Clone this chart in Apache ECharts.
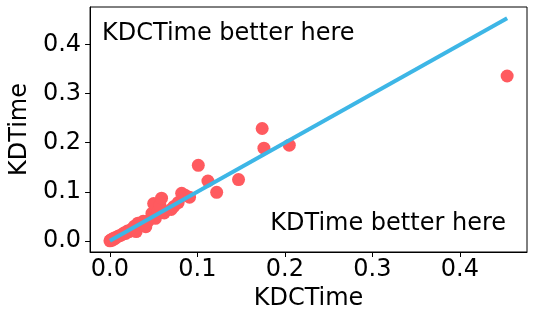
<!DOCTYPE html>
<html>
<head>
<meta charset="utf-8">
<script src="https://cdn.jsdelivr.net/npm/echarts@6/dist/echarts.min.js"></script>
<style>html,body{margin:0;padding:0;background:#fff;}#c{width:534px;height:318px;}</style>
</head>
<body>
<div id="c"></div>
<script>
const kdcTime = [0.000,0.001,0.002,0.003,0.004,0.005,0.006,0.008,0.010,0.012,0.014,0.016,0.018,0.020,0.022,0.025,0.028,0.030,0.032,0.035,0.038,0.041,0.044,0.048,0.050,0.052,0.055,0.057,0.059,0.062,0.070,0.073,0.078,0.082,0.086,0.091,0.101,0.112,0.122,0.147,0.174,0.176,0.205,0.454];
const kdTime  = [0.000,0.002,0.001,0.004,0.003,0.006,0.005,0.008,0.010,0.011,0.013,0.016,0.015,0.020,0.019,0.024,0.030,0.019,0.036,0.033,0.040,0.029,0.041,0.056,0.076,0.046,0.060,0.073,0.087,0.057,0.064,0.070,0.078,0.097,0.093,0.089,0.154,0.122,0.099,0.125,0.229,0.189,0.195,0.336];
const diagX = [0, 0.454];
const tickValues = [0, 0.1, 0.2, 0.3, 0.4];
const axisMin = -0.0227, axisMax = 0.4767;

const points = kdcTime.map((x, i) => [x, kdTime[i]]);
const diag = diagX.map(v => [v, v]);
const FONT = 'DejaVu Sans';

const chart = echarts.init(document.getElementById('c'), null, {renderer: 'canvas'});
function axis(name, isX) {
  return {
    type: 'value', min: axisMin, max: axisMax,
    name: name, nameLocation: 'middle', nameGap: isX ? 34 : 52,
    nameTextStyle: {fontFamily: FONT, fontSize: 24, color: '#000'},
    axisLine: {show: true, onZero: false, lineStyle: {color: '#000', width: 1}},
    axisTick: {show: true, length: 5, lineStyle: {color: '#000'}, customValues: tickValues},
    axisLabel: {fontFamily: FONT, fontSize: 24, color: '#000', margin: isX ? 6 : 9,
      customValues: tickValues, formatter: v => v.toFixed(1)},
    splitLine: {show: false}
  };
}
chart.setOption({
  animation: false,
  grid: {left: 82, right: 7, top: 7, bottom: 66, show: true, borderColor: '#000', borderWidth: 1, containLabel: false},
  xAxis: axis('KDCTime', true),
  yAxis: axis('KDTime', false),
  series: [
    {type: 'scatter', data: points, symbolSize: 13, itemStyle: {color: '#FF5A5F', opacity: 1}, z: 2},
    {type: 'line', data: diag, showSymbol: false, symbol: 'none', lineStyle: {color: '#3DB6E6', width: 4}, z: 3}
  ],
  graphic: [
    {type: 'text', x: 102, y: 34, style: {text: 'KDCTime better here', font: '24px "DejaVu Sans"', fill: '#000', textAlign: 'left', textVerticalAlign: 'middle'}},
    {type: 'text', x: 506, y: 224, style: {text: 'KDTime better here', font: '24px "DejaVu Sans"', fill: '#000', textAlign: 'right', textVerticalAlign: 'middle'}}
  ]
});
</script>
</body>
</html>
